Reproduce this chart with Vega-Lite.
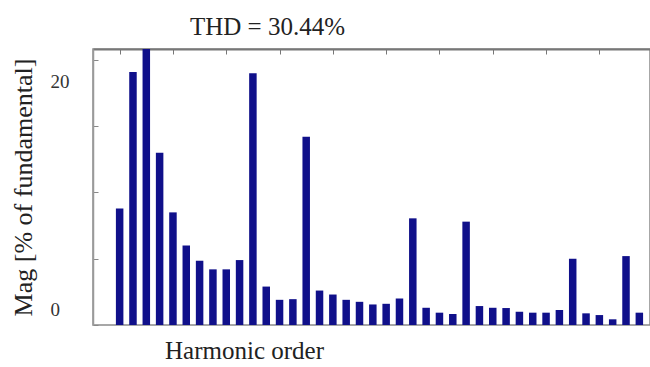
{
  "$schema": "https://vega.github.io/schema/vega-lite/v6.json",
  "width": 557,
  "height": 276,
  "autosize": "none",
  "padding": {"left": 93, "top": 49, "right": 0, "bottom": 42},
  "background": "white",
  "config": {"view": {"stroke": "#8a8a8a", "strokeWidth": 1.5}, "font": "Liberation Serif"},
  "title": {"text": "THD = 30.44%", "font": "Liberation Serif", "fontSize": 25, "fontWeight": "normal", "color": "#222222", "anchor": "middle", "dx": -104, "dy": 27, "baseline": "alphabetic", "offset": 16},
  "data": {"values": [
    {"order": 2, "mag": 8.8}, {"order": 3, "mag": 19.1}, {"order": 4, "mag": 22}, {"order": 5, "mag": 13.0},
    {"order": 6, "mag": 8.5}, {"order": 7, "mag": 6.0}, {"order": 8, "mag": 4.85}, {"order": 9, "mag": 4.2},
    {"order": 10, "mag": 4.2}, {"order": 11, "mag": 4.9}, {"order": 12, "mag": 19.0}, {"order": 13, "mag": 2.9},
    {"order": 14, "mag": 1.9}, {"order": 15, "mag": 1.95}, {"order": 16, "mag": 14.2}, {"order": 17, "mag": 2.6},
    {"order": 18, "mag": 2.3}, {"order": 19, "mag": 1.9}, {"order": 20, "mag": 1.75}, {"order": 21, "mag": 1.55},
    {"order": 22, "mag": 1.6}, {"order": 23, "mag": 2.0}, {"order": 24, "mag": 8.05}, {"order": 25, "mag": 1.3},
    {"order": 26, "mag": 0.93}, {"order": 27, "mag": 0.83}, {"order": 28, "mag": 7.8}, {"order": 29, "mag": 1.43},
    {"order": 30, "mag": 1.3}, {"order": 31, "mag": 1.28}, {"order": 32, "mag": 1.0}, {"order": 33, "mag": 0.93},
    {"order": 34, "mag": 0.93}, {"order": 35, "mag": 1.13}, {"order": 36, "mag": 5.0}, {"order": 37, "mag": 0.88},
    {"order": 38, "mag": 0.75}, {"order": 39, "mag": 0.43}, {"order": 40, "mag": 5.2}, {"order": 41, "mag": 0.93}
  ]},
  "layer": [
    {
      "mark": {"type": "bar", "size": 7.5, "color": "#10108a", "clip": true},
      "encoding": {
        "x": {"field": "order", "type": "quantitative",
          "scale": {"domain": [0, 41.8], "nice": false, "zero": false, "padding": 0},
          "axis": {"orient": "bottom", "title": "Harmonic order", "labels": false, "ticks": false, "domain": false, "grid": false,
            "titleFont": "Liberation Serif", "titleFontSize": 25, "titleFontWeight": "normal", "titleColor": "#222222",
            "titleX": 151, "titleY": 33, "titleBaseline": "alphabetic"}},
        "y": {"field": "mag", "type": "quantitative",
          "scale": {"domain": [0, 20.83], "nice": false},
          "axis": {"values": [0, 5, 10, 15, 20], "labelExpr": "datum.value == 0 || datum.value == 20 ? datum.label : ''",
            "tickSize": -5, "tickColor": "#888888", "domainColor": "#9a9a9a", "domainWidth": 1.5, "grid": false,
            "labelFont": "Liberation Serif", "labelFontSize": 19, "labelColor": "#333333", "labelAlign": "left", "labelPadding": 48,
            "labelOffset": {"condition": {"test": "datum.value == 0", "value": -16}, "value": 22},
            "title": "Mag [% of fundamental]", "titleFont": "Liberation Serif", "titleFontSize": 26, "titleFontWeight": "normal",
            "titleColor": "#222222", "titleX": -62, "titleY": 138, "titleBaseline": "alphabetic"}}
      }
    },
    {
      "mark": {"type": "point", "opacity": 0},
      "encoding": {
        "x": {"field": "order", "type": "quantitative",
          "axis": {"orient": "top", "values": [2, 6, 10, 14, 18, 22, 26, 30, 34, 38], "labels": false, "title": null,
            "tickSize": -5, "tickColor": "#777777", "domainColor": "#777777", "domainWidth": 2, "grid": false}}
      }
    }
  ],
  "resolve": {"axis": {"x": "independent"}}
}
